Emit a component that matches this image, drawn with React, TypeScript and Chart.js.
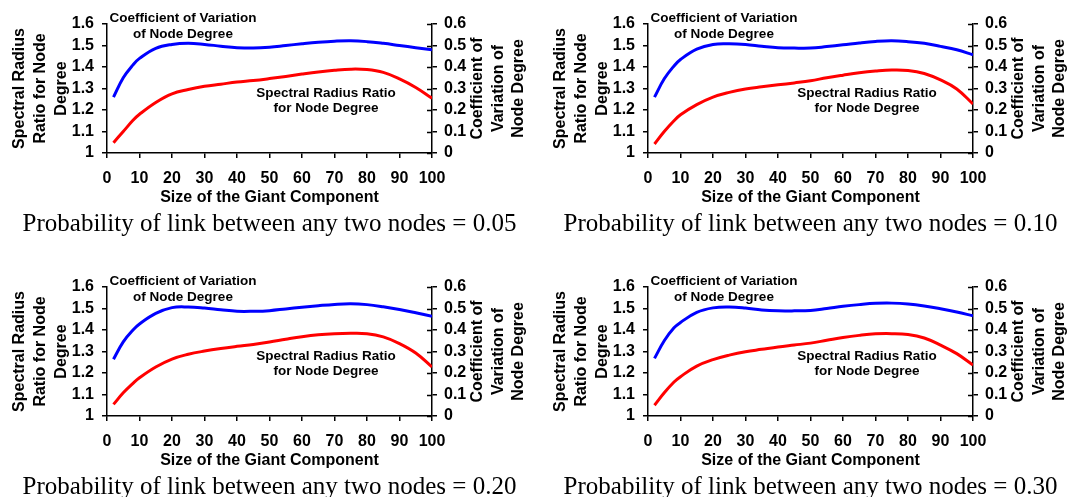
import React, { useEffect, useRef } from "react";
import { Chart, registerables } from "chart.js";

Chart.register(...registerables);

// ---- data ----
const xValues = [2, 5, 8, 10, 15, 20, 25, 30, 35, 40, 45, 50, 55, 60, 65, 70, 75, 80, 85, 90, 95, 100];

// Coefficient of variation of node degree (right axis)
const cvP005 = [0.26, 0.35, 0.41, 0.44, 0.487, 0.505, 0.51, 0.505, 0.497, 0.49, 0.488, 0.492, 0.5, 0.508, 0.515, 0.52, 0.522, 0.518, 0.51, 0.5, 0.49, 0.48];
const cvP010 = [0.26, 0.345, 0.405, 0.435, 0.483, 0.505, 0.508, 0.505, 0.497, 0.49, 0.488, 0.488, 0.495, 0.503, 0.512, 0.519, 0.522, 0.518, 0.51, 0.496, 0.48, 0.457];
const cvP020 = [0.264, 0.345, 0.4, 0.428, 0.477, 0.504, 0.507, 0.502, 0.494, 0.487, 0.487, 0.49, 0.498, 0.506, 0.513, 0.519, 0.522, 0.518, 0.508, 0.495, 0.48, 0.464];
const cvP030 = [0.268, 0.35, 0.41, 0.435, 0.482, 0.503, 0.507, 0.502, 0.493, 0.489, 0.489, 0.491, 0.5, 0.51, 0.518, 0.524, 0.525, 0.521, 0.512, 0.499, 0.484, 0.466];

// Spectral radius ratio for node degree (left axis)
const srP005 = [1.048, 1.1, 1.152, 1.18, 1.235, 1.275, 1.295, 1.31, 1.32, 1.33, 1.337, 1.346, 1.356, 1.367, 1.377, 1.385, 1.39, 1.388, 1.375, 1.345, 1.305, 1.255];
const srP010 = [1.042, 1.1, 1.15, 1.178, 1.225, 1.26, 1.282, 1.298, 1.308, 1.317, 1.326, 1.336, 1.35, 1.362, 1.373, 1.381, 1.386, 1.384, 1.37, 1.34, 1.298, 1.228];
const srP020 = [1.054, 1.108, 1.152, 1.178, 1.228, 1.265, 1.287, 1.302, 1.314, 1.324, 1.333, 1.344, 1.357, 1.369, 1.378, 1.383, 1.385, 1.383, 1.368, 1.337, 1.293, 1.228];
const srP030 = [1.05, 1.108, 1.158, 1.183, 1.232, 1.262, 1.283, 1.299, 1.31, 1.321, 1.33, 1.339, 1.352, 1.365, 1.375, 1.382, 1.383, 1.379, 1.363, 1.33, 1.29, 1.237];

const probabilities = ["0.05", "0.10", "0.20", "0.30"];

const xTicks = [0, 10, 20, 30, 40, 50, 60, 70, 80, 90, 100];
const leftTicks = [1, 1.1, 1.2, 1.3, 1.4, 1.5, 1.6];
const rightTicks = [0, 0.1, 0.2, 0.3, 0.4, 0.5, 0.6];

const leftTitle = ["Spectral Radius", "Ratio for Node", "Degree"];
const rightTitle = ["Coefficient of", "Variation of", "Node Degree"];
const xTitle = "Size of the Giant Component";
const cvLabel = ["Coefficient of Variation", "of Node Degree"];
const srLabel = ["Spectral Radius Ratio", "for Node Degree"];

const SANS = "'Liberation Sans', Arial, sans-serif";
const SERIF = "'Liberation Serif', 'Times New Roman', serif";

const CW = 529;
const CH = 240;
const PLOT_BOTTOM = 153;

const fmt = (v: any) => String(Math.round(Number(v) * 10) / 10);

const textPlugin = {
  id: "panelText",
  afterDraw(chart: any, _args: any, opts: any) {
    const { ctx } = chart;
    const { left: L, right: R, top: T, bottom: B } = chart.chartArea;
    const cy = (T + B) / 2;
    const cx = (L + R) / 2;
    ctx.save();
    ctx.fillStyle = "#000";
    ctx.strokeStyle = "#000";

    // inward tick marks on right axis
    const y1 = chart.scales.y1;
    ctx.lineWidth = 1.5;
    ctx.beginPath();
    rightTicks.forEach((v) => {
      const py = Math.round(y1.getPixelForValue(v)) + 0.5;
      ctx.moveTo(R - 5, py);
      ctx.lineTo(R, py);
    });
    ctx.stroke();

    // in-plot annotations
    ctx.textAlign = "center";
    ctx.textBaseline = "alphabetic";
    ctx.font = `bold 13.5px ${SANS}`;
    ctx.fillText(cvLabel[0], L + 76, T - 2);
    ctx.fillText(cvLabel[1], L + 76, T + 13.5);
    ctx.fillText(srLabel[0], L + 219, T + 72.5);
    ctx.fillText(srLabel[1], L + 219, T + 88);

    // axis titles
    ctx.font = `bold 16px ${SANS}`;
    ctx.textBaseline = "middle";
    const leftX = [L - 87, L - 66, L - 45];
    leftTitle.forEach((t, i) => {
      ctx.save();
      ctx.translate(leftX[i], cy);
      ctx.rotate(-Math.PI / 2);
      ctx.fillText(t, 0, 0);
      ctx.restore();
    });
    const rightX = [R + 46, R + 67, R + 87];
    rightTitle.forEach((t, i) => {
      ctx.save();
      ctx.translate(rightX[i], cy);
      ctx.rotate(-Math.PI / 2);
      ctx.fillText(t, 0, 0);
      ctx.restore();
    });
    ctx.textBaseline = "alphabetic";
    ctx.fillText(xTitle, cx, B + 49);

    // caption
    ctx.font = `25px ${SERIF}`;
    ctx.fillText(`Probability of link between any two nodes = ${opts.prob}`, cx, B + 78);
    ctx.restore();
  },
};

const tickFont = { family: SANS, size: 16, weight: "bold" as const };

function Panel({ cv, sr, prob, left, top }: { cv: number[]; sr: number[]; prob: string; left: number; top: number }) {
  const ref = useRef<HTMLCanvasElement | null>(null);
  useEffect(() => {
    if (!ref.current) return;
    const chart = new Chart(ref.current, {
      type: "line",
      data: {
        datasets: [
          {
            label: "Coefficient of Variation of Node Degree",
            data: xValues.map((x, i) => ({ x, y: cv[i] })),
            yAxisID: "y1",
            borderColor: "#0000FF",
            backgroundColor: "#0000FF",
            borderWidth: 3,
            pointRadius: 0,
            tension: 0.4,
            fill: false,
          },
          {
            label: "Spectral Radius Ratio for Node Degree",
            data: xValues.map((x, i) => ({ x, y: sr[i] })),
            yAxisID: "y",
            borderColor: "#FF0000",
            backgroundColor: "#FF0000",
            borderWidth: 3,
            pointRadius: 0,
            tension: 0.4,
            fill: false,
          },
        ],
      },
      options: {
        responsive: false,
        animation: false,
        devicePixelRatio: 1,
        layout: { padding: { top: 24, left: 0, right: 0, bottom: 0 } },
        plugins: {
          legend: { display: false },
          tooltip: { enabled: false },
          panelText: { prob },
        } as any,
        scales: {
          x: {
            type: "linear",
            min: 0,
            max: 100,
            afterBuildTicks: (s: any) => {
              s.ticks = xTicks.map((v) => ({ value: v }));
            },
            afterFit: (s: any) => {
              s.height = CH - PLOT_BOTTOM;
            },
            grid: { drawOnChartArea: false, drawTicks: true, tickLength: 5, color: "#000", lineWidth: 1.5 },
            border: { display: true, color: "#000", width: 1.5 },
            ticks: { color: "#000", font: tickFont, padding: 11, maxRotation: 0, autoSkip: false, callback: fmt },
          },
          y: {
            type: "linear",
            position: "left",
            min: 1,
            max: 1.6,
            afterBuildTicks: (s: any) => {
              s.ticks = leftTicks.map((v) => ({ value: v }));
            },
            afterFit: (s: any) => {
              s.width = 107;
            },
            grid: { drawOnChartArea: false, drawTicks: true, tickLength: 5, color: "#000", lineWidth: 1.5 },
            border: { display: true, color: "#000", width: 1.5 },
            ticks: { color: "#000", font: tickFont, padding: 8, autoSkip: false, callback: fmt },
          },
          y1: {
            type: "linear",
            position: "right",
            min: 0,
            max: 0.6,
            afterBuildTicks: (s: any) => {
              s.ticks = rightTicks.map((v) => ({ value: v }));
            },
            afterFit: (s: any) => {
              s.width = CW - 432;
            },
            grid: { drawOnChartArea: false, drawTicks: true, tickLength: 5, color: "#000", lineWidth: 1.5 },
            border: { display: true, color: "#000", width: 1.5 },
            ticks: { color: "#000", font: tickFont, padding: 7, autoSkip: false, callback: fmt },
          },
        },
      } as any,
      plugins: [textPlugin],
    });
    return () => chart.destroy();
  }, [cv, sr, prob]);
  return (
    <div style={{ position: "absolute", left, top, width: CW, height: CH }}>
      <canvas ref={ref} width={CW} height={CH} style={{ width: CW, height: CH, display: "block" }} />
    </div>
  );
}

export default function App() {
  return (
    <div style={{ position: "absolute", left: 0, top: 0, width: 1070, height: 497, background: "#fff", overflow: "hidden" }}>
      <Panel cv={cvP005} sr={srP005} prob={probabilities[0]} left={0} top={0} />
      <Panel cv={cvP010} sr={srP010} prob={probabilities[1]} left={541} top={0} />
      <Panel cv={cvP020} sr={srP020} prob={probabilities[2]} left={0} top={263} />
      <Panel cv={cvP030} sr={srP030} prob={probabilities[3]} left={541} top={263} />
    </div>
  );
}
